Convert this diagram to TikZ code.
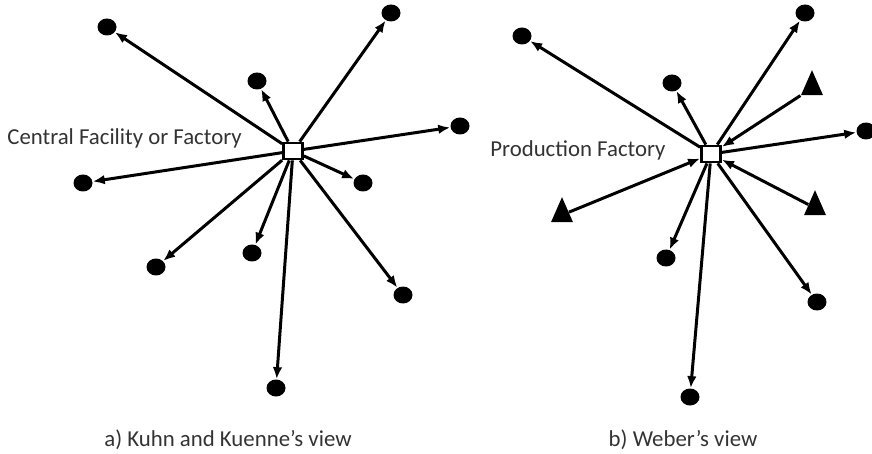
\documentclass[tikz,border=0pt]{standalone}
\usepackage{fontspec}
\setmainfont{Carlito}
\usepackage{xcolor}
\usetikzlibrary{arrows.meta,shapes.geometric}

\begin{document}
\begin{tikzpicture}[x=0.5pt,y=-0.5pt,
  plant/.style={shape=rectangle,draw=black,fill=white,line width=1.4pt,minimum width=9.5pt,minimum height=8pt,inner sep=0pt},
  market/.style={shape=ellipse,fill=black,minimum width=9.5pt,minimum height=8.5pt,inner sep=0pt},
  supply/.style={shape=isosceles triangle,shape border rotate=90,isosceles triangle stretches,fill=black,minimum width=11pt,minimum height=12.5pt,inner sep=0pt},
  txt/.style={inner sep=0pt,text=black!80,font=\fontsize{11.4}{13}\selectfont},
  flow/.style={line width=1.5pt,-{Latex[length=6pt,width=4.8pt]}}]
\useasboundingbox (0,0) rectangle (872,454);
% a) Kuhn and Kuenne
\node[plant] (K) at (293,151) {};
\node[txt,anchor=base west] (Kl) at (7,145) {Central Facility or Factory};
\node[market] (K1) at (107,27) {};
\node[market] (K2) at (391,13) {};
\node[market] (K3) at (257,81) {};
\node[market] (K4) at (460,126) {};
\node[market] (K5) at (83,183) {};
\node[market] (K6) at (363,183) {};
\node[market] (K7) at (156,267) {};
\node[market] (K8) at (252,253) {};
\node[market] (K9) at (403,295) {};
\node[market] (K10) at (276,388) {};
\node[txt,anchor=base] (Kc) at (228,446) {a) Kuhn and Kuenne’s view};
\foreach \i in {1,...,10}
  \path[flow] (K) edge (K\i);
% b) Weber
\node[plant] (W) at (711,154) {};
\node[txt,anchor=base west] (Wl) at (490,157) {Production Factory};
\node[market] (W1) at (522,36) {};
\node[market] (W2) at (805,13) {};
\node[market] (W3) at (672,83) {};
\node[market] (W4) at (866,131) {};
\node[market] (W5) at (666,258) {};
\node[market] (W6) at (817,302) {};
\node[market] (W7) at (690,397) {};
\node[supply] (S1) at (812,88) {};
\node[supply] (S2) at (562,215) {};
\node[supply] (S3) at (815,208) {};
\node[txt,anchor=base] (Wc) at (683,446) {b) Weber’s view};
\foreach \i in {1,...,7}
  \path[flow] (W) edge (W\i);
\foreach \i in {1,2,3}
  \path[flow] (S\i) edge (W);
\end{tikzpicture}
\end{document}
